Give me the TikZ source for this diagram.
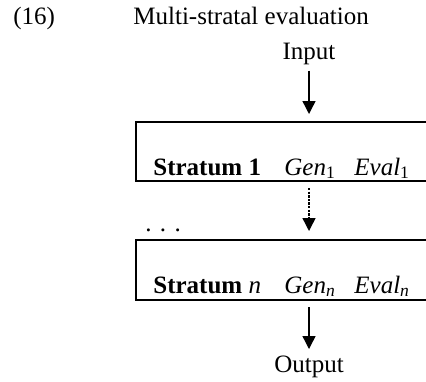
\documentclass[tikz,border=0pt]{standalone}
\usepackage{fontspec}
\setmainfont{Liberation Serif}
\usepackage{tikz}
\usetikzlibrary{arrows.meta, positioning, calc}

\newcommand{\figfont}{\fontsize{12.5pt}{15pt}\selectfont}

\tikzset{
  txt/.style={inner sep=0pt, font=\figfont},
  flow/.style={-{Triangle[length=6.5pt, width=6.5pt]}, line width=0.7pt},
  dotflow/.style={flow, dash pattern=on 1.2pt off 0.6pt},
  stratbox/.style={line width=0.6pt}
}

\begin{document}
\begin{tikzpicture}[x=0.5pt, y=-0.5pt]
  \useasboundingbox (0,0) rectangle (426,381);
  % heading
  \node[txt, anchor=base west] (num) at (13,24.5) {(16)};
  \node[txt, anchor=base west] (title) at (133,24.5) {Multi-stratal evaluation};
  \node[txt, anchor=base] (input) at (309,59.5) {Input};
  % stratum 1
  \coordinate (b1nw) at (136,122);
  \coordinate (b1sw) at (136,181);
  \draw[stratbox] (426,122) -- (b1nw) -- (b1sw) -- (426,181);
  \coordinate (b1n) at (309,122);
  \coordinate (b1s) at (309,181);
  \node[txt, anchor=base west] (s1) at (153,175) {\textbf{Stratum 1}};
  \node[txt, anchor=base west] (gen1) at (284,175) {\textit{Gen}\textsubscript{1}};
  \node[txt, anchor=base west] (eval1) at (354,175) {\textit{Eval}\textsubscript{1}};
  % dots
  \node[txt, anchor=base west] (dots) at (145,231) {. . .};
  % stratum n
  \coordinate (b2nw) at (136,240);
  \coordinate (b2sw) at (136,300);
  \draw[stratbox] (426,240) -- (b2nw) -- (b2sw) -- (426,300);
  \coordinate (b2n) at (309,240);
  \coordinate (b2s) at (309,300);
  \node[txt, anchor=base west] (sn) at (153,293) {\textbf{Stratum} \textit{n}};
  \node[txt, anchor=base west] (genn) at (284,293) {\textit{Gen}\textsubscript{\textit{n}}};
  \node[txt, anchor=base west] (evaln) at (354,293) {\textit{Eval}\textsubscript{\textit{n}}};
  \node[txt, anchor=base] (output) at (309,372) {Output};
  % arrows
  \draw[flow] ([yshift=-5.5pt]input.base) -- ([yshift=4pt]b1n);
  \draw[dotflow] ([yshift=-3.5pt]b1s) -- ([yshift=4.5pt]b2n);
  \draw[flow] ([yshift=-3.5pt]b2s) -- ([yshift=11.5pt]output.base);
\end{tikzpicture}
\end{document}
